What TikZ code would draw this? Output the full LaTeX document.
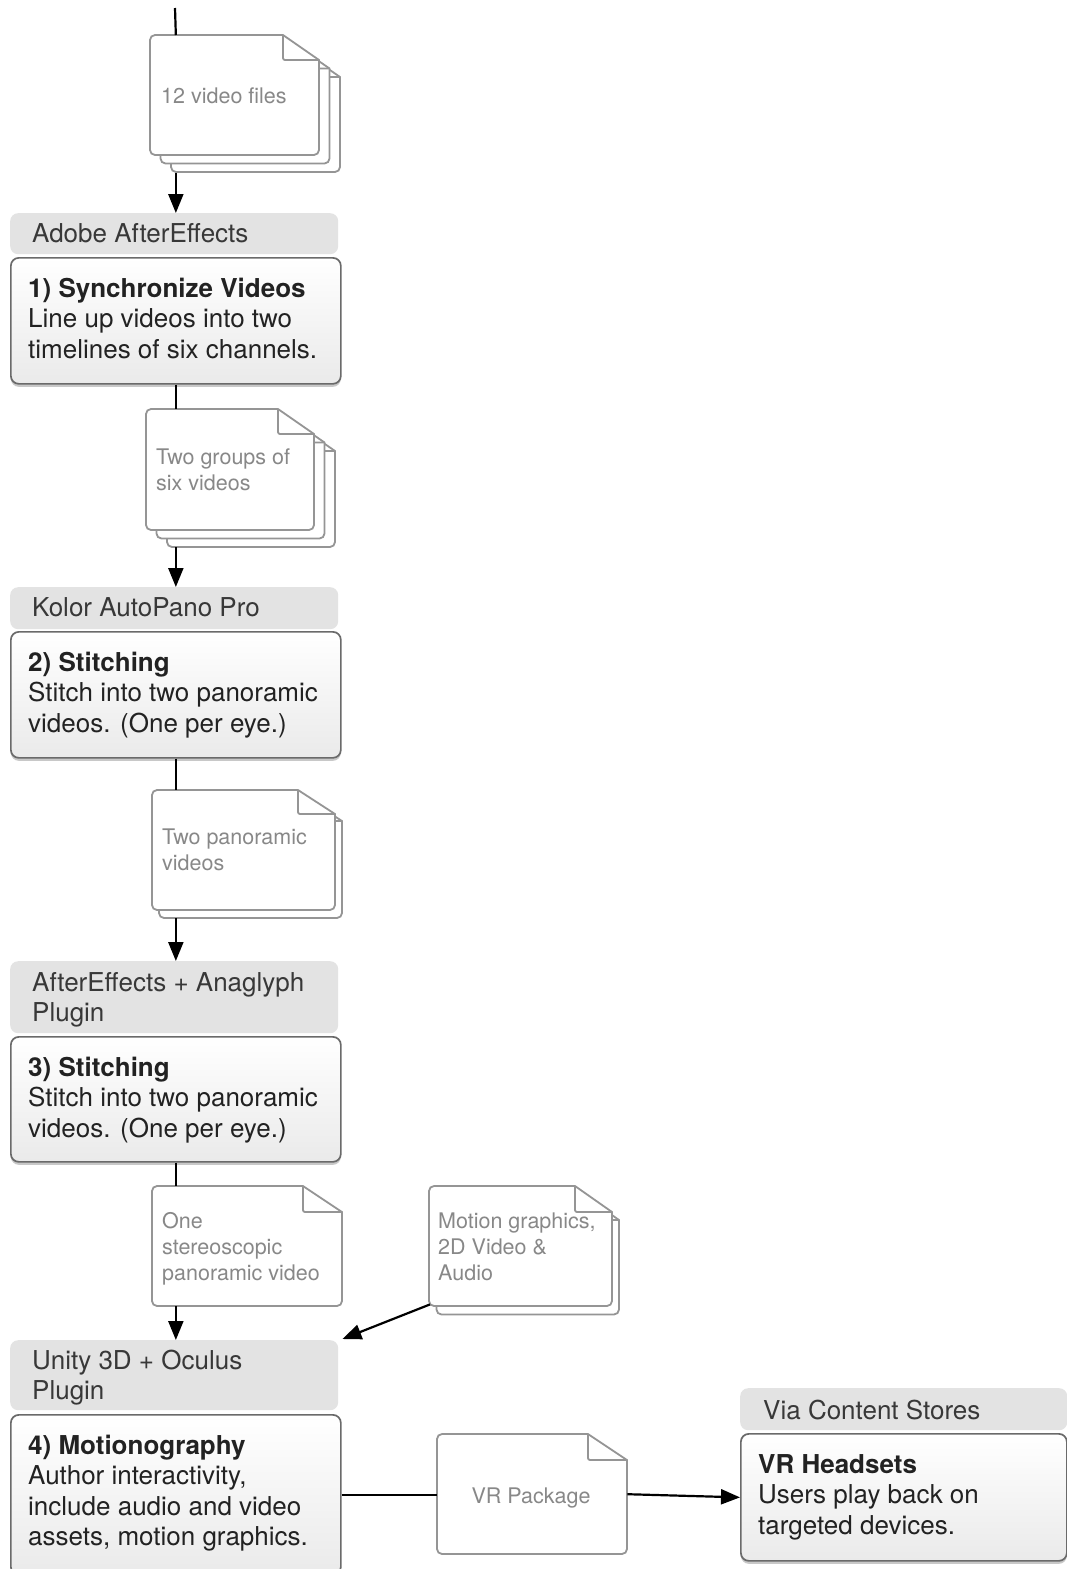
\documentclass[tikz,border=0pt]{standalone}
\usepackage{fontspec}
\setmainfont{TeX Gyre Heros}
\usetikzlibrary{arrows.meta,shadows}
\definecolor{hdrgray}{HTML}{E3E3E3}
\definecolor{boxborder}{HTML}{6A6A6A}
\definecolor{boxbot}{HTML}{EAEAEA}
\definecolor{docgray}{HTML}{959595}
\definecolor{doctxt}{HTML}{888888}
\definecolor{hdrtxt}{HTML}{383838}
\definecolor{maintxt}{HTML}{222222}
% x0 y0 x1 y1 fold-width fold-height (pixel coords, y downward)
\newcommand\docsheet[6]{%
  \draw[docline] (#1+20,-#2) [sharp corners] -- (#3-#5,-#2) -- (#3,-#2-#6)
    [rounded corners=5pt] -- (#3,-#4) -- (#1,-#4) -- (#1,-#2) -- cycle;
  \draw[docline,fill=none,rounded corners=2pt] (#3-#5,-#2) -- (#3-#5,-#2-#6) -- (#3,-#2-#6);
}
\begin{document}
\begin{tikzpicture}[x=1pt,y=1pt,
  hdr/.style={fill=hdrgray, draw=none, rounded corners=8pt, anchor=north west, inner sep=0pt},
  mainbox/.style={draw=boxborder, line width=1.7pt, rounded corners=8pt, top color=white,
    bottom color=boxbot, anchor=north west, inner sep=0pt,
    drop shadow={shadow xshift=0pt, shadow yshift=-3pt, opacity=0.3, fill=black!70}},
  docline/.style={draw=docgray, line width=1.8pt, fill=white},
  docarea/.style={draw=none, fill=none, anchor=north west, inner sep=0pt},
  doctext/.style={text=doctxt, font=\fontsize{21.5}{26}\selectfont, anchor=base west, inner sep=0pt},
  hdrtext/.style={text=hdrtxt, font=\fontsize{26}{30.5}\selectfont, anchor=base west, inner sep=0pt},
  maintext/.style={text=maintxt, font=\fontsize{26}{30.6}\selectfont, anchor=base west, inner sep=0pt},
  conn/.style={line width=2.2pt, draw=black},
  arr/.style={conn, -{Triangle[length=19pt,width=15pt]}}
]
\path[use as bounding box, clip] (0,0) rectangle (1067,-1569);
\fill[white] (0,0) rectangle (1067,-1569);

% ---------- headers ----------
\node[hdr, minimum width=328, minimum height=41] (h1) at (10,-213) {};
\node[hdr, minimum width=328, minimum height=42] (h2) at (10,-587) {};
\node[hdr, minimum width=328, minimum height=72] (h3) at (10,-961) {};
\node[hdr, minimum width=328, minimum height=70] (h4) at (10,-1340) {};
\node[hdr, minimum width=327, minimum height=42] (h5) at (740,-1388) {};

% ---------- process boxes ----------
\node[mainbox, minimum width=330, minimum height=126] (b1) at (10,-257) {};
\node[mainbox, minimum width=330, minimum height=126] (b2) at (10,-631) {};
\node[mainbox, minimum width=330, minimum height=125] (b3) at (10,-1036) {};
\node[mainbox, minimum width=330, minimum height=160] (b4) at (10,-1414) {};
\node[mainbox, minimum width=326, minimum height=127] (b5) at (740,-1433) {};

% ---------- header texts ----------
\node[hdrtext] (h1t) at (32,-242) {Adobe AfterEffects};
\node[hdrtext] (h2t) at (32,-616) {Kolor AutoPano Pro};
\node[hdrtext] (h3t) at (32,-991) {\vtop{\hbox{AfterEffects + Anaglyph}\hbox{Plugin}}};
\node[hdrtext] (h4t) at (32,-1369) {\vtop{\hbox{Unity 3D + Oculus}\hbox{Plugin}}};
\node[hdrtext] (h5t) at (763,-1419) {Via Content Stores};

% ---------- box texts ----------
\node[maintext] (b1t) at (28,-297) {\vtop{\hbox{\bfseries 1) Synchronize Videos}\hbox{Line up videos into two}\hbox{timelines of six channels.}}};
\node[maintext] (b2t) at (28,-671) {\vtop{\hbox{\bfseries 2) Stitching}\hbox{Stitch into two panoramic}\hbox{videos. (One per eye.)}}};
\node[maintext] (b3t) at (28,-1076) {\vtop{\hbox{\bfseries 3) Stitching}\hbox{Stitch into two panoramic}\hbox{videos. (One per eye.)}}};
\node[maintext] (b4t) at (28,-1454) {\vtop{\hbox{\bfseries 4) Motionography}\hbox{Author interactivity,}\hbox{include audio and video}\hbox{assets, motion graphics.}}};
\node[maintext] (b5t) at (758,-1473) {\vtop{\hbox{\bfseries VR Headsets}\hbox{Users play back on}\hbox{targeted devices.}}};

% ---------- documents ----------
% doc 1: 12 video files (stack of three)
\docsheet{171}{52}{340}{172}{36}{25}
\docsheet{160.5}{43.5}{329.5}{163.5}{36}{25}
\docsheet{150}{35}{319}{155}{36}{25}
\node[docarea, minimum width=190, minimum height=138] (d1) at (150,-35) {};
\node[doctext] (d1t) at (161,-103) {12 video files};

% doc 2: two groups (stack of three)
\docsheet{167}{426}{335}{547}{36}{25}
\docsheet{156.5}{417.5}{324.5}{538.5}{36}{25}
\docsheet{146}{409}{314}{530}{36}{25}
\node[docarea, minimum width=189, minimum height=138] (d2) at (146,-409) {};
\node[doctext] (d2t) at (156,-464) {\vtop{\hbox{Two groups of}\hbox{six videos}}};

% doc 3: two panoramic videos (stack of two)
\docsheet{159}{797}{342}{918}{37}{24}
\docsheet{152}{790}{335}{910}{37}{24}
\node[docarea, minimum width=190, minimum height=128] (d3) at (152,-790) {};
\node[doctext] (d3t) at (162,-844) {\vtop{\hbox{Two panoramic}\hbox{videos}}};

% doc 4: one stereoscopic panoramic video
\docsheet{152}{1186}{342}{1306}{39}{26}
\node[docarea, minimum width=190, minimum height=120] (d4) at (152,-1186) {};
\node[doctext] (d4t) at (162,-1228) {\vtop{\hbox{One}\hbox{stereoscopic}\hbox{panoramic video}}};

% doc 5: motion graphics (stack of two)
\docsheet{436.5}{1194}{619}{1314.5}{37}{26}
\docsheet{429}{1186}{612}{1306}{37}{26}
\node[docarea, minimum width=183, minimum height=120] (d5) at (429,-1186) {};
\node[doctext] (d5t) at (438,-1228) {\vtop{\hbox{Motion graphics,}\hbox{2D Video \&}\hbox{Audio}}};

% doc VR package
\docsheet{437}{1434}{627}{1554}{39}{26}
\node[docarea, minimum width=190, minimum height=120] (dvr) at (437,-1434) {};
\node[doctext, anchor=base] (dvrt) at (531,-1503) {VR Package};

% ---------- connectors ----------
\coordinate (start) at (175,-8);
\draw[conn] (start) -- (d1.north -| b1.north);
\draw[arr] (d1.south -| b1.north) -- (h1.north -| b1.north);
\draw[conn] (b1.south) -- (d2.north -| b1.south);
\draw[arr] (d2.south -| b1.south) -- (h2.north -| b2.north);
\draw[conn] (b2.south) -- (d3.north -| b2.south);
\draw[arr] (d3.south -| b2.south) -- (h3.north -| b3.north);
\draw[conn] (b3.south) -- (d4.north -| b3.south);
\draw[arr] (d4.south -| b3.south) -- (h4.north -| b4.north);
\draw[arr] ([xshift=1pt,yshift=2pt]d5.south west) -- ([xshift=4pt,yshift=1pt]h4.north east);
\draw[conn] (b4.east) -- (dvr.west |- b4.east);
\draw[arr] (dvr.east) -- (b5.west);
\end{tikzpicture}
\end{document}
